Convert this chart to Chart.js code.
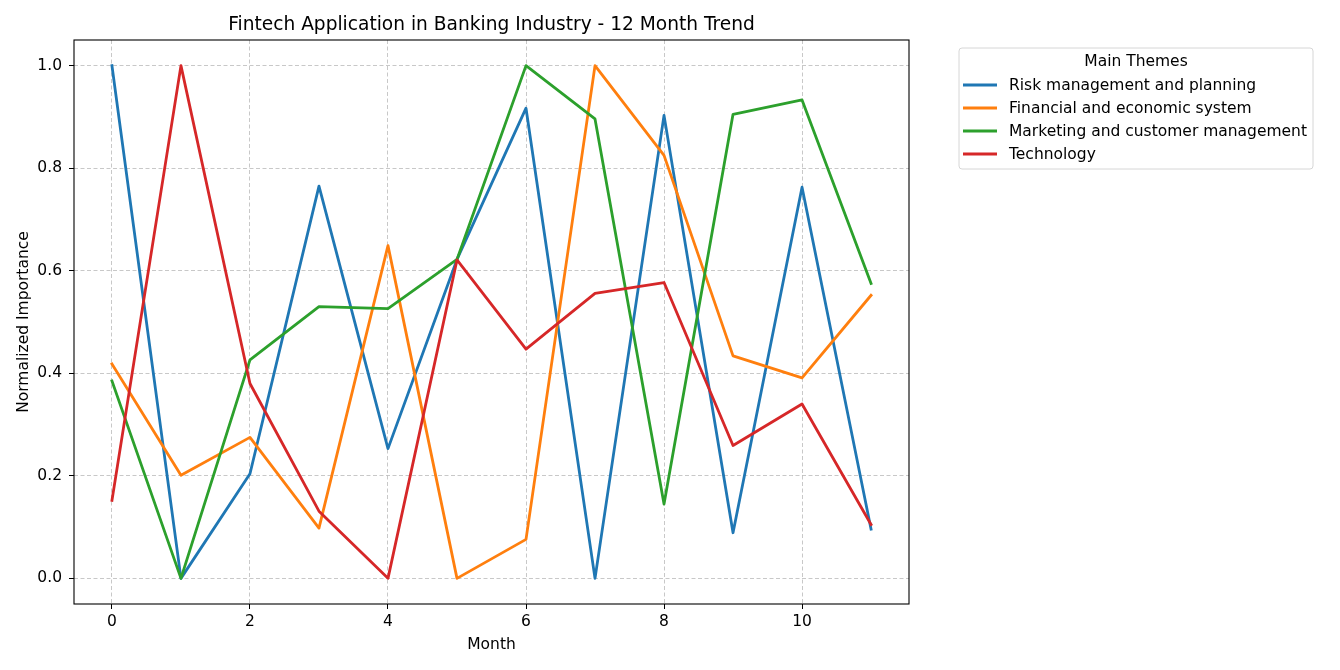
<!DOCTYPE html>
<html>
<head>
<meta charset="utf-8">
<script src="https://cdn.jsdelivr.net/npm/chart.js@4"></script>
<style>
html,body{margin:0;padding:0;background:#fff;}
#wrap{width:1340px;height:670px;position:relative;}
</style>
</head>
<body>
<div id="wrap"><canvas id="c" width="1340" height="670"></canvas></div>
<script>
const months = [0,1,2,3,4,5,6,7,8,9,10,11];
const seriesNames = ["Risk management and planning","Financial and economic system","Marketing and customer management","Technology"];
const riskValues = [1.0,0.0,0.204,0.765,0.253,0.622,0.917,0.0,0.903,0.089,0.763,0.096];
const financialValues = [0.418,0.201,0.275,0.098,0.649,0.0,0.076,1.0,0.825,0.434,0.391,0.552];
const marketingValues = [0.385,0.0,0.426,0.530,0.526,0.622,1.0,0.896,0.145,0.905,0.933,0.575];
const technologyValues = [0.152,1.0,0.380,0.131,0.0,0.621,0.447,0.556,0.577,0.259,0.340,0.105];
const xTicks = [0,2,4,6,8,10];
const yTicks = [0.0,0.2,0.4,0.6,0.8,1.0];
const colors = ["#1f77b4","#ff7f0e","#2ca02c","#d62728"];
const titleText = "Fintech Application in Banking Industry - 12 Month Trend";
const legendTitle = "Main Themes";
const xLabel = "Month";
const yLabel = "Normalized Importance";

const allValues = [riskValues, financialValues, marketingValues, technologyValues];
const FONT = "'DejaVu Sans', sans-serif";
const TITLE_SIZE = 18.6;
const TEXT_SIZE = 15.5;

const datasets = allValues.map((vals, i) => ({
  label: seriesNames[i],
  data: months.map((m, j) => ({x: m, y: vals[j]})),
  borderColor: colors[i],
  backgroundColor: colors[i],
  borderWidth: 2.8,
  borderJoinStyle: 'round',
  borderCapStyle: 'square',
  pointRadius: 0,
  tension: 0,
  fill: false,
  order: 4 - i
}));

const decor = {
  id: 'decor',
  afterDraw(chart) {
    const ctx = chart.ctx;
    const a = chart.chartArea;
    ctx.save();
    // frame
    ctx.strokeStyle = '#000';
    ctx.lineWidth = 1.1;
    ctx.strokeRect(a.left, a.top, a.right - a.left, a.bottom - a.top);
    // title
    ctx.fillStyle = '#000';
    ctx.font = TITLE_SIZE + 'px ' + FONT;
    ctx.textAlign = 'center';
    ctx.textBaseline = 'middle';
    ctx.fillText(titleText, (a.left + a.right) / 2, 25);
    // axis labels
    ctx.font = TEXT_SIZE + 'px ' + FONT;
    ctx.fillText(xLabel, (a.left + a.right) / 2, 645);
    ctx.save();
    ctx.translate(24, (a.top + a.bottom) / 2);
    ctx.rotate(-Math.PI / 2);
    ctx.fillText(yLabel, 0, 0);
    ctx.restore();
    // legend
    const lx = 959, ly = 48, lw = 354, lh = 121;
    ctx.beginPath();
    const r = 3;
    ctx.moveTo(lx + r, ly);
    ctx.arcTo(lx + lw, ly, lx + lw, ly + lh, r);
    ctx.arcTo(lx + lw, ly + lh, lx, ly + lh, r);
    ctx.arcTo(lx, ly + lh, lx, ly, r);
    ctx.arcTo(lx, ly, lx + lw, ly, r);
    ctx.closePath();
    ctx.fillStyle = 'rgba(255,255,255,0.8)';
    ctx.fill();
    ctx.strokeStyle = '#d6d6d6';
    ctx.lineWidth = 1;
    ctx.stroke();
    ctx.fillStyle = '#000';
    ctx.font = TEXT_SIZE + 'px ' + FONT;
    ctx.textAlign = 'center';
    ctx.fillText(legendTitle, 1136, 62);
    ctx.textAlign = 'left';
    chart.data.datasets.forEach((ds, i) => {
      const yy = 85 + i * 23;
      ctx.strokeStyle = ds.borderColor;
      ctx.lineWidth = 2.8;
      ctx.beginPath();
      ctx.moveTo(963, yy);
      ctx.lineTo(997, yy);
      ctx.stroke();
      ctx.fillStyle = '#000';
      ctx.fillText(ds.label, 1009, yy + 1);
    });
    ctx.restore();
  }
};

new Chart(document.getElementById('c'), {
  type: 'line',
  data: { datasets },
  options: {
    responsive: false,
    animation: false,
    devicePixelRatio: 1,
    layout: { padding: { top: 40, right: 431, left: 0, bottom: 0 } },
    plugins: { legend: { display: false }, title: { display: false }, tooltip: { enabled: false } },
    scales: {
      x: {
        type: 'linear',
        min: -0.55,
        max: 11.55,
        afterBuildTicks(scale) { scale.ticks = xTicks.map(v => ({value: v})); },
        afterFit(scale) { scale.height = 66; },
        ticks: {
          color: '#000',
          font: { family: FONT, size: TEXT_SIZE },
          padding: 4,
          maxRotation: 0,
          autoSkip: false,
          callback: v => String(v)
        },
        grid: {
          color: 'rgba(176,176,176,0.7)',
          lineWidth: 1,
          drawTicks: true,
          tickLength: 5,
          tickColor: '#000',
          tickWidth: 1,
          tickBorderDash: []
        },
        border: { display: false, dash: [4, 2.5] }
      },
      y: {
        type: 'linear',
        min: -0.05,
        max: 1.05,
        afterBuildTicks(scale) { scale.ticks = yTicks.map(v => ({value: v})); },
        afterFit(scale) { scale.width = 74; },
        ticks: {
          color: '#000',
          font: { family: FONT, size: TEXT_SIZE },
          padding: 7,
          autoSkip: false,
          callback: v => Number(v).toFixed(1)
        },
        grid: {
          color: 'rgba(176,176,176,0.7)',
          lineWidth: 1,
          drawTicks: true,
          tickLength: 5,
          tickColor: '#000',
          tickWidth: 1,
          tickBorderDash: []
        },
        border: { display: false, dash: [4, 2.5] }
      }
    }
  },
  plugins: [decor]
});
</script>
</body>
</html>
